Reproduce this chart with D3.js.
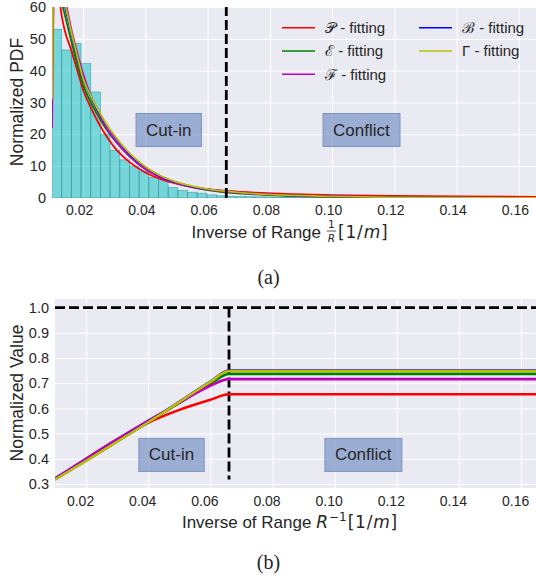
<!DOCTYPE html>
<html lang="en">
<head>
  <meta charset="UTF-8">
  <title>Inverse range PDF and normalized value</title>
  <script src="https://cdn.jsdelivr.net/npm/d3@7"></script>
  <style>
    body { margin: 0; background: #fff; }
    text { font-family: 'Liberation Sans', Arial, sans-serif; fill: #262626; }
  </style>
</head>
<body>
  <script>
    // ---- data ----
    const seriesNames = ["P", "E", "F", "B", "G"];
    const legendLabels = ["\u{1D4AB} - fitting", "\u2130 - fitting", "\u2131 - fitting", "\u212C - fitting", "\u0393 - fitting"];
    const seriesColors = ["#ff0000", "#008000", "#bf00bf", "#0000ff", "#bfbf00"];

    // histogram (panel a)
    const histStart = 0.01;
    const histWidth = 0.00311;
    const histHeights = [53.0, 46.5, 48.6, 42.3, 33.3, 20.0, 15.0, 12.0, 10.0, 8.3, 6.5, 6.0, 3.3, 2.4, 1.8, 1.5, 1.0, 0.7,
      0.5, 0.45, 0.4, 0.35, 0.32, 0.28, 0.25, 0.22, 0.2, 0.18, 0.16, 0.14, 0.13, 0.12, 0.1, 0.09,
      0.08, 0.08, 0.07, 0.06, 0.06, 0.05, 0.05, 0.04, 0.04, 0.04, 0.03, 0.03, 0.03, 0.02, 0.02, 0.02];

    // fitted PDFs (panel a)
    const pdfX = [0.0100, 0.0104, 0.0110, 0.0120, 0.0130, 0.0140, 0.0160, 0.0180, 0.0200, 0.0225, 0.0250, 0.0275, 0.0300,
      0.0350, 0.0400, 0.0450, 0.0500, 0.0550, 0.0600, 0.0660, 0.0750, 0.0850, 0.1000, 0.1200, 0.1400, 0.1660];
    const pdfP = [95, 88, 80, 67, 58, 53, 47, 40.5, 34, 28.3, 23.5, 19.4, 16.0, 11.2, 8.0, 5.9, 4.5, 3.5, 2.8, 2.2, 1.7, 1.25, 0.9, 0.65, 0.5, 0.38];
    const pdfE = [68, 70, 70, 67, 62, 58, 50, 42.5, 35.5, 30, 25.5, 21.5, 18.3, 13, 9.2, 6.5, 4.7, 3.4, 2.5, 1.8, 1.15, 0.7, 0.35, 0.15, 0.06, 0.03];
    const pdfF = [22, 55, 72, 75, 70, 64, 54, 46, 39, 32, 26.5, 22, 18.5, 13, 9.0, 6.4, 4.6, 3.4, 2.6, 1.9, 1.3, 0.85, 0.5, 0.25, 0.13, 0.06];
    const pdfB = [45, 68, 75, 73, 66, 61, 52.5, 44.5, 37.3, 31.8, 27.1, 23.0, 19.5, 13.8, 9.7, 6.8, 4.9, 3.6, 2.7, 2.1, 1.4, 0.9, 0.5, 0.22, 0.1, 0.04];
    const pdfG = [31, 68, 76, 74, 66, 62, 53, 45, 37.5, 32, 27.3, 23.2, 19.7, 14.0, 9.8, 6.9, 5.0, 3.7, 2.8, 2.1, 1.4, 0.9, 0.5, 0.22, 0.1, 0.04];

    // normalized value (panel b)
    const valX = [0.01, 0.02, 0.03, 0.04, 0.05, 0.06, 0.066, 0.17];
    const valP = [0.318, 0.400, 0.477, 0.543, 0.594, 0.634, 0.656, 0.656];
    const valE = [0.320, 0.394, 0.470, 0.545, 0.622, 0.698, 0.737, 0.737];
    const valF = [0.322, 0.400, 0.477, 0.551, 0.622, 0.690, 0.716, 0.716];
    const valB = [0.319, 0.393, 0.469, 0.546, 0.626, 0.706, 0.750, 0.750];
    const valG = [0.318, 0.392, 0.468, 0.545, 0.625, 0.705, 0.748, 0.748];

    const cutoff = 0.066;
    const xTicks = [0.02, 0.04, 0.06, 0.08, 0.10, 0.12, 0.14, 0.16];
    const pdfTicks = [0, 10, 20, 30, 40, 50, 60];
    const valTicks = [0.3, 0.4, 0.5, 0.6, 0.7, 0.8, 0.9, 1.0];
    const regionsA = [{label: "Cut-in", x: 0.0475, y: 21.5}, {label: "Conflict", x: 0.1094, y: 21.5}];
    const regionsB = [{label: "Cut-in", x: 0.0475, y: 0.417}, {label: "Conflict", x: 0.1092, y: 0.417}];

    // ---- drawing ----
    const width = 536, height = 580;
    const svg = d3.select("body").append("svg")
        .attr("width", width)
        .attr("height", height);

    function panel(opts) {
      const x = d3.scaleLinear().domain(opts.xDomain).range(opts.xRange);
      const y = d3.scaleLinear().domain(opts.yDomain).range(opts.yRange);
      const g = svg.append("g");
      const clipId = "clip-" + opts.id;

      g.append("clipPath").attr("id", clipId)
        .append("rect")
          .attr("x", opts.xRange[0]).attr("y", opts.yRange[1])
          .attr("width", opts.xRange[1] - opts.xRange[0])
          .attr("height", opts.yRange[0] - opts.yRange[1]);

      g.append("rect")
          .attr("x", opts.xRange[0]).attr("y", opts.yRange[1])
          .attr("width", opts.xRange[1] - opts.xRange[0])
          .attr("height", opts.yRange[0] - opts.yRange[1])
          .attr("fill", "#eaeaf2");

      // grid
      g.append("g")
          .attr("transform", `translate(0,${opts.yRange[0]})`)
          .call(d3.axisBottom(x).tickValues(xTicks).tickSize(opts.yRange[1] - opts.yRange[0]).tickFormat(""))
          .call(a => a.select(".domain").remove())
          .call(a => a.selectAll("line").attr("stroke", "#fff").attr("stroke-width", 1));
      g.append("g")
          .attr("transform", `translate(${opts.xRange[0]},0)`)
          .call(d3.axisLeft(y).tickValues(opts.yTicks).tickSize(opts.xRange[0] - opts.xRange[1]).tickFormat(""))
          .call(a => a.select(".domain").remove())
          .call(a => a.selectAll("line").attr("stroke", "#fff").attr("stroke-width", 1));

      // tick labels
      g.append("g")
          .attr("transform", `translate(0,${opts.yRange[0]})`)
          .call(d3.axisBottom(x).tickValues(xTicks).tickSize(0).tickPadding(opts.xPad).tickFormat(d3.format(".2f")))
          .call(a => a.select(".domain").remove())
          .call(a => a.selectAll("text").attr("dx", opts.xLabelShift)
              .style("font-size", "14px").style("font-family", "'Liberation Sans', Arial, sans-serif").attr("fill", "#262626"));
      g.append("g")
          .attr("transform", `translate(${opts.xRange[0]},0)`)
          .call(d3.axisLeft(y).tickValues(opts.yTicks).tickSize(0).tickPadding(6).tickFormat(opts.yFormat))
          .call(a => a.select(".domain").remove())
          .call(a => a.selectAll("text")
              .style("font-size", "14.5px").style("font-family", "'Liberation Sans', Arial, sans-serif").attr("fill", "#262626"));

      const plot = g.append("g").attr("clip-path", `url(#${clipId})`);
      return {x, y, g, plot};
    }

    function regionBoxes(p, regions) {
      regions.forEach(r => {
        const t = p.g.append("text")
            .attr("x", p.x(r.x)).attr("y", p.y(r.y))
            .attr("text-anchor", "middle")
            .attr("dy", "0.35em")
            .style("font-size", "17px")
            .text(r.label);
        const bb = t.node().getBBox();
        p.g.insert("rect", () => t.node())
            .attr("x", bb.x - 10).attr("y", bb.y - 7)
            .attr("width", bb.width + 20).attr("height", bb.height + 14)
            .attr("fill", "#7b93c6").attr("fill-opacity", 0.7)
            .attr("stroke", "#7b93c6").attr("stroke-width", 1);
      });
    }

    // ---------- panel (a) ----------
    const a = panel({
      id: "a", xDomain: [0.01, 0.1655], xRange: [52, 536],
      yDomain: [0, 60], yRange: [198, 7], yTicks: pdfTicks,
      yFormat: d3.format("d"), xPad: 7, xLabelShift: -4
    });

    a.plot.append("g")
      .selectAll("rect")
      .data(histHeights)
      .join("rect")
        .attr("x", (d, i) => a.x(histStart + i * histWidth))
        .attr("width", (d, i) => a.x(histStart + (i + 1) * histWidth) - a.x(histStart + i * histWidth))
        .attr("y", d => a.y(d))
        .attr("height", d => a.y(0) - a.y(d))
        .attr("fill", "#00bfbf").attr("fill-opacity", 0.5)
        .attr("stroke", "#2f8f94").attr("stroke-opacity", 0.6).attr("stroke-width", 0.8);

    const pdfSeries = [pdfP, pdfE, pdfF, pdfB, pdfG];
    const pdfLine = d3.line().x(d => a.x(d[0])).y(d => a.y(d[1])).curve(d3.curveMonotoneX);
    pdfSeries.forEach((s, i) => {
      a.plot.append("path")
          .attr("d", pdfLine(pdfX.map((v, k) => [v, s[k]])))
          .attr("fill", "none")
          .attr("stroke", seriesColors[i])
          .attr("stroke-width", 1.8);
    });

    a.plot.append("line")
        .attr("x1", a.x(cutoff)).attr("x2", a.x(cutoff))
        .attr("y1", a.y(0)).attr("y2", a.y(60))
        .attr("stroke", "#000").attr("stroke-width", 2.8).attr("stroke-dasharray", "10,4");

    regionBoxes(a, regionsA);

    // legend
    const legend = a.g.append("g");
    legendLabels.forEach((lab, i) => {
      const col = i < 3 ? 0 : 1;
      const row = i < 3 ? i : i - 3;
      const lx = col === 0 ? 282 : 419;
      const ly = 27.7 + row * 23.3;
      legend.append("line")
          .attr("x1", lx).attr("x2", lx + 33)
          .attr("y1", ly).attr("y2", ly)
          .attr("stroke", seriesColors[i]).attr("stroke-width", 1.5);
      legend.append("text")
          .attr("x", lx + 43).attr("y", ly)
          .attr("dy", "0.35em")
          .style("font-size", "15px")
          .text(lab);
    });

    // x label with fraction
    function xLabel(p, cx, base, kind) {
      const lg = p.g.append("g");
      let cursor = 0;
      const main = lg.append("text").attr("x", 0).attr("y", base)
          .style("font-size", "17px").text("Inverse of Range\u00a0");
      cursor += main.node().getComputedTextLength();
      if (kind === "frac") {
        const one = lg.append("text").attr("y", base - 9.4).attr("text-anchor", "middle")
            .style("font-family", "'DejaVu Sans', sans-serif").style("font-size", "10.5px").text("1");
        const r = lg.append("text").attr("y", base + 4).attr("text-anchor", "middle")
            .style("font-family", "'DejaVu Sans', sans-serif").style("font-size", "10.5px")
            .style("font-style", "italic").text("R");
        const w = Math.max(one.node().getComputedTextLength(), r.node().getComputedTextLength()) + 2;
        one.attr("x", cursor + w / 2 + 1);
        r.attr("x", cursor + w / 2 + 1);
        lg.append("line").attr("x1", cursor + 1).attr("x2", cursor + w + 1)
            .attr("y1", base - 6.5).attr("y2", base - 6.5)
            .attr("stroke", "#262626").attr("stroke-width", 0.8);
        cursor += w + 3;
      } else {
        const r = lg.append("text").attr("x", cursor).attr("y", base)
            .style("font-family", "'DejaVu Sans', sans-serif").style("font-size", "17px")
            .style("font-style", "italic").text("R");
        cursor += r.node().getComputedTextLength() + 1;
        const sup = lg.append("text").attr("x", cursor).attr("y", base - 7)
            .style("font-family", "'DejaVu Sans', sans-serif").style("font-size", "12px").text("\u22121");
        cursor += sup.node().getComputedTextLength() + 1;
      }
      const tail = lg.append("text").attr("x", cursor).attr("y", base)
          .style("font-family", "'DejaVu Sans', sans-serif").style("font-size", "17px")
          .style("letter-spacing", "0.8px");
      tail.append("tspan").text("[1/");
      tail.append("tspan").style("font-style", "italic").text("m");
      tail.append("tspan").text("]");
      cursor += tail.node().getComputedTextLength();
      lg.attr("transform", `translate(${cx - cursor / 2},0)`);
    }

    xLabel(a, 290, 237.5, "frac");

    a.g.append("text")
        .attr("transform", "translate(17,102) rotate(-90)")
        .attr("text-anchor", "middle").attr("dy", "0.35em")
        .style("font-size", "17.5px")
        .text("Normalized PDF");

    svg.append("text")
        .attr("x", 268.5).attr("y", 284)
        .attr("text-anchor", "middle")
        .style("font-family", "'Liberation Serif', 'Times New Roman', serif")
        .style("font-size", "20px").attr("fill", "#000")
        .text("(a)");

    // ---------- panel (b) ----------
    const b = panel({
      id: "b", xDomain: [0.01, 0.1648], xRange: [55, 536],
      yDomain: [0.284, 1.034], yRange: [488, 299], yTicks: valTicks,
      yFormat: d3.format(".1f"), xPad: 8, xLabelShift: -6
    });

    b.plot.append("line")
        .attr("x1", b.x(0.01)).attr("x2", b.x(0.17))
        .attr("y1", b.y(1.0)).attr("y2", b.y(1.0))
        .attr("stroke", "#000").attr("stroke-width", 2.8).attr("stroke-dasharray", "10,4");
    b.plot.append("line")
        .attr("x1", b.x(cutoff)).attr("x2", b.x(cutoff))
        .attr("y1", b.y(1.0)).attr("y2", b.y(0.318))
        .attr("stroke", "#000").attr("stroke-width", 2.8).attr("stroke-dasharray", "10,4");

    const valSeries = [valP, valE, valF, valB, valG];
    const valLine = d3.line().x(d => b.x(d[0])).y(d => b.y(d[1])).curve(d3.curveMonotoneX);
    valSeries.forEach((s, i) => {
      b.plot.append("path")
          .attr("d", valLine(valX.map((v, k) => [v, s[k]])))
          .attr("fill", "none")
          .attr("stroke", seriesColors[i])
          .attr("stroke-width", 2.6);
    });

    regionBoxes(b, regionsB);

    xLabel(b, 290, 527.5, "sup");

    b.g.append("text")
        .attr("transform", "translate(17,393) rotate(-90)")
        .attr("text-anchor", "middle").attr("dy", "0.35em")
        .style("font-size", "17.5px")
        .text("Normalized Value");

    svg.append("text")
        .attr("x", 268.5).attr("y", 569)
        .attr("text-anchor", "middle")
        .style("font-family", "'Liberation Serif', 'Times New Roman', serif")
        .style("font-size", "20px").attr("fill", "#000")
        .text("(b)");
  </script>
</body>
</html>
